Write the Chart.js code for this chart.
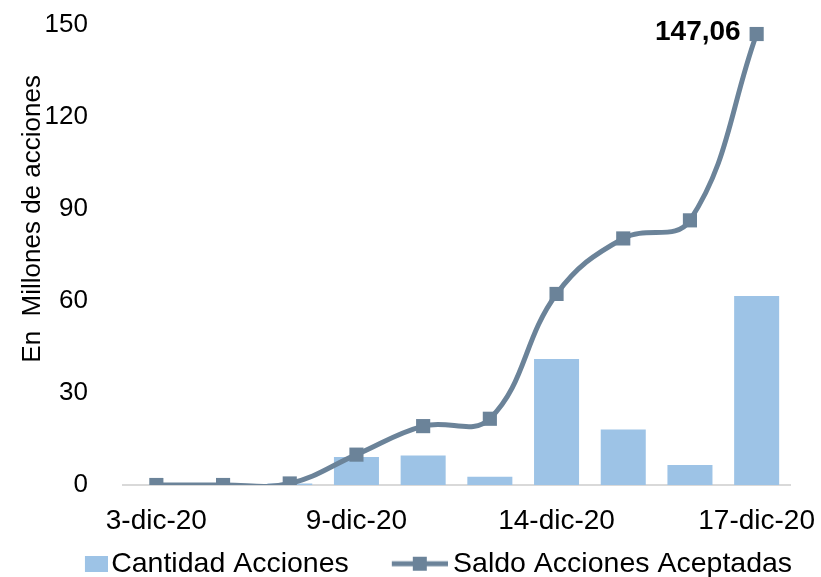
<!DOCTYPE html>
<html><head><meta charset="utf-8">
<script src="https://cdn.jsdelivr.net/npm/chart.js@4/dist/chart.umd.min.js"></script>
<style>html,body{margin:0;padding:0;background:#fff;}#wrap{width:821px;height:577px;position:relative;}</style>
</head><body><div id="wrap"><canvas id="c"></canvas></div>
<script>
const categories = ['3-dic-20','4-dic-20','7-dic-20','9-dic-20','10-dic-20','11-dic-20','14-dic-20','15-dic-20','16-dic-20','17-dic-20'];
const cantidadAcciones = [0, 0, 0.5, 9.1, 9.6, 2.7, 41.1, 18.1, 6.5, 61.6];
const saldoAcciones = [0, 0, 0.5, 9.9, 19.2, 21.6, 62.3, 80.4, 86.3, 147.06];
const shownTickLabels = ['3-dic-20','9-dic-20','14-dic-20','17-dic-20'];
const yTicks = [0, 30, 60, 90, 120, 150];
const seriesNames = ['Cantidad Acciones', 'Saldo Acciones Aceptadas'];
const yTitle = 'En  Millones de acciones';

const barColor = '#9dc3e6';
const lineColor = '#6b8399';
const sansFont = '"Liberation Sans", Arial, sans-serif';

function barSymbol(){
  const c = document.createElement('canvas'); c.width = 110; c.height = 16;
  const x = c.getContext('2d'); x.fillStyle = barColor; x.fillRect(87, 0, 23, 16); return c;
}
function lineSymbol(){
  const c = document.createElement('canvas'); c.width = 106; c.height = 16;
  const x = c.getContext('2d'); x.strokeStyle = lineColor; x.lineWidth = 5;
  x.beginPath(); x.moveTo(50, 8); x.lineTo(106, 8); x.stroke();
  x.fillStyle = lineColor; x.fillRect(71, 1, 14, 14); return c;
}
const legendSymbols = [barSymbol(), lineSymbol()];

const lastLabel = {
  id: 'lastLabel',
  afterDatasetsDraw(chart){
    const meta = chart.getDatasetMeta(1);
    const i = meta.data.length - 1;
    const pt = meta.data[i];
    const ctx = chart.ctx;
    ctx.save();
    ctx.font = 'bold 28px ' + sansFont;
    ctx.fillStyle = '#000';
    ctx.textAlign = 'right';
    ctx.textBaseline = 'middle';
    ctx.fillText(saldoAcciones[i].toFixed(2).replace('.', ','), pt.x - 16, pt.y - 2);
    ctx.restore();
  }
};

new Chart(document.getElementById('c'), {
  data: {
    labels: categories,
    datasets: [
      { type: 'bar', label: seriesNames[0], data: cantidadAcciones, backgroundColor: barColor,
        borderWidth: 0, barPercentage: 0.675, categoryPercentage: 1, order: 2, yAxisID: 'y' },
      { type: 'line', label: seriesNames[1], data: saldoAcciones, borderColor: lineColor, backgroundColor: lineColor,
        borderWidth: 5, tension: 0.4, pointStyle: 'rect', pointRadius: 10, pointBackgroundColor: lineColor,
        pointBorderWidth: 0, order: 1, yAxisID: 'y' }
    ]
  },
  options: {
    responsive: true, maintainAspectRatio: false, animation: false,
    layout: { padding: { top: 25, right: 20, bottom: -11, left: 0 } },
    elements: { line: { capBezierPoints: false } },
    plugins: {
      tooltip: { enabled: false },
      legend: {
        position: 'bottom',
        labels: {
          usePointStyle: true, pointStyleWidth: 88, padding: 2, color: '#000',
          font: { size: 28.5, family: sansFont },
          generateLabels(chart){
            return chart.data.datasets.map((ds, i) => ({
              text: ds.label, pointStyle: legendSymbols[i], fillStyle: 'transparent',
              strokeStyle: 'transparent', lineWidth: 0, hidden: false, datasetIndex: i, fontColor: '#000'
            }));
          }
        }
      }
    },
    scales: {
      x: {
        offset: true,
        grid: { display: false, drawTicks: false },
        border: { display: true, color: '#d9d9d9', width: 2 },
        ticks: { autoSkip: false, maxRotation: 0, padding: 19, color: '#000',
          font: { size: 28, family: sansFont },
          callback(v, i){ const l = categories[i]; return shownTickLabels.includes(l) ? l : ''; } },
        afterFit(s){ s.height = 62.5; s.paddingLeft = 0; s.paddingRight = 0; }
      },
      y: {
        min: 0, max: 150,
        afterBuildTicks(s){ s.ticks = yTicks.map(v => ({ value: v })); },
        grid: { display: false, drawTicks: false },
        border: { display: false },
        ticks: { padding: 35, color: '#000', font: { size: 26, family: sansFont } },
        title: { display: true, text: '          ' + yTitle, color: '#000',
          font: { size: 26, family: sansFont }, padding: { top: 17, bottom: 0 } },
        afterFit(s){ s.width = 123; s.paddingTop = 0; s.paddingBottom = 0; }
      },
      rightPad: {
        type: 'linear', position: 'right', display: true,
        grid: { display: false, drawTicks: false }, border: { display: false },
        ticks: { display: false }, title: { display: false },
        afterFit(s){ s.width = 11; }
      }
    }
  },
  plugins: [lastLabel]
});
</script></body></html>
